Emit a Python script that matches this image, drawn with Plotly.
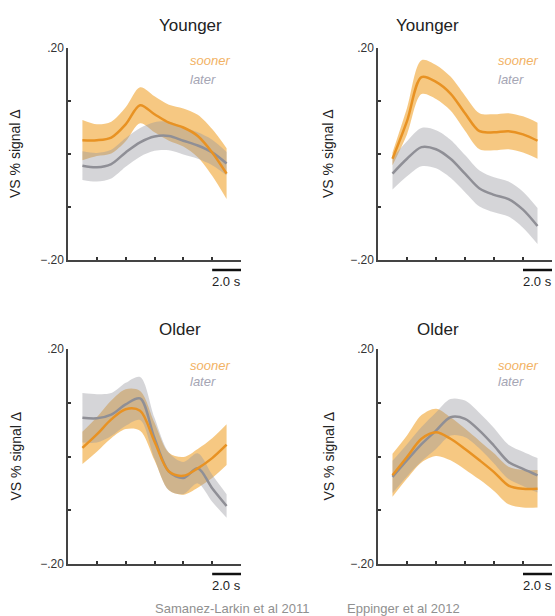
import plotly.graph_objects as go

# time points (s)
t = [1, 2, 3, 4, 5, 6, 7, 8, 9, 10, 11]

# Panel 1: Samanez-Larkin et al 2011, Younger
p1_sooner = [0.026, 0.026, 0.031, 0.056, 0.092, 0.075, 0.059, 0.050, 0.034, 0.003, -0.037]
p1_sooner_se = [0.038, 0.030, 0.030, 0.032, 0.034, 0.034, 0.034, 0.036, 0.040, 0.044, 0.048]
p1_later = [-0.022, -0.025, -0.019, 0.003, 0.022, 0.033, 0.034, 0.025, 0.016, 0.003, -0.018]
p1_later_se = [0.027, 0.027, 0.027, 0.027, 0.027, 0.027, 0.027, 0.026, 0.025, 0.024, 0.022]

# Panel 2: Eppinger et al 2012, Younger
p2_sooner = [-0.009, 0.062, 0.145, 0.136, 0.114, 0.077, 0.043, 0.041, 0.043, 0.037, 0.025]
p2_sooner_se = [0.012, 0.025, 0.032, 0.032, 0.032, 0.033, 0.034, 0.034, 0.034, 0.034, 0.034]
p2_later = [-0.037, -0.009, 0.013, 0.009, -0.009, -0.037, -0.065, -0.077, -0.085, -0.105, -0.136]
p2_later_se = [0.030, 0.033, 0.036, 0.036, 0.036, 0.035, 0.034, 0.033, 0.033, 0.034, 0.034]

# Panel 3: Samanez-Larkin et al 2011, Older
p3_sooner = [0.016, 0.041, 0.069, 0.088, 0.085, 0.028, -0.028, -0.036, -0.022, -0.003, 0.022]
p3_sooner_se = [0.030, 0.032, 0.035, 0.037, 0.037, 0.035, 0.035, 0.035, 0.036, 0.037, 0.038]
p3_later = [0.072, 0.071, 0.078, 0.097, 0.108, 0.034, -0.028, -0.040, -0.022, -0.059, -0.092]
p3_later_se = [0.046, 0.045, 0.040, 0.040, 0.040, 0.038, 0.035, 0.030, 0.028, 0.025, 0.022]

# Panel 4: Eppinger et al 2012, Older
p4_sooner = [-0.035, -0.001, 0.033, 0.045, 0.033, 0.014, -0.007, -0.029, -0.054, -0.060, -0.060]
p4_sooner_se = [0.040, 0.040, 0.044, 0.044, 0.040, 0.038, 0.036, 0.035, 0.035, 0.035, 0.035]
p4_later = [-0.038, -0.007, 0.023, 0.048, 0.073, 0.070, 0.048, 0.020, -0.010, -0.023, -0.035]
p4_later_se = [0.030, 0.030, 0.032, 0.034, 0.034, 0.034, 0.033, 0.033, 0.032, 0.032, 0.032]

titles = ["Younger", "Younger", "Older", "Older"]
captions = ["Samanez-Larkin et al 2011", "Eppinger et al 2012"]
ytick_vals = [-0.2, -0.1, 0, 0.1, 0.2]
ytick_text = ["\u2212.20", "", "", "", ".20"]
xtick_vals = [2, 4, 6, 8, 10, 12]

panels = [
    (p1_sooner, p1_sooner_se, p1_later, p1_later_se),
    (p2_sooner, p2_sooner_se, p2_later, p2_later_se),
    (p3_sooner, p3_sooner_se, p3_later, p3_later_se),
    (p4_sooner, p4_sooner_se, p4_later, p4_later_se),
]

W, H = 555, 616
FONT = "Liberation Sans, Arial, Helvetica, sans-serif"
ORANGE = "rgb(232,146,35)"
ORANGE_BAND = "rgba(240,160,40,0.58)"
GRAY = "rgb(143,143,150)"
GRAY_BAND = "rgba(150,150,158,0.40)"

xdom = [[68 / W, 241 / W], [378 / W, 552 / W]]
ydom = [[1 - 260 / H, 1 - 48 / H], [1 - 564 / H, 1 - 349 / H]]

fig = go.Figure()
annotations = []
shapes = []

for i, (s, sse, l, lse) in enumerate(panels):
    ax = "" if i == 0 else str(i + 1)
    xr, yr = "x" + ax, "y" + ax
    col, row = i % 2, i // 2
    for vals, se, band in [(s, sse, ORANGE_BAND), (l, lse, GRAY_BAND)]:
        lower = [v - e for v, e in zip(vals, se)]
        upper = [v + e for v, e in zip(vals, se)]
        fig.add_trace(go.Scatter(x=t, y=lower, mode="lines",
                                 line=dict(width=0, shape="spline", smoothing=0.9),
                                 hoverinfo="skip", showlegend=False, xaxis=xr, yaxis=yr))
        fig.add_trace(go.Scatter(x=t, y=upper, mode="lines", fill="tonexty", fillcolor=band,
                                 line=dict(width=0, shape="spline", smoothing=0.9),
                                 hoverinfo="skip", showlegend=False, xaxis=xr, yaxis=yr))
    fig.add_trace(go.Scatter(x=t, y=l, mode="lines",
                             line=dict(color=GRAY, width=2.5, shape="spline", smoothing=0.9),
                             showlegend=False, xaxis=xr, yaxis=yr))
    fig.add_trace(go.Scatter(x=t, y=s, mode="lines",
                             line=dict(color=ORANGE, width=2.5, shape="spline", smoothing=0.9),
                             showlegend=False, xaxis=xr, yaxis=yr))

    axcommon = dict(showline=True, linecolor="#444", linewidth=1.5, showgrid=False,
                    zeroline=False, ticks="inside", ticklen=3, tickwidth=1.5, tickcolor="#333",
                    automargin=False)
    fig.layout["xaxis" + ax] = dict(domain=xdom[col], range=[0, 12], anchor=yr,
                                    tickvals=xtick_vals, showticklabels=False, **axcommon)
    fig.layout["yaxis" + ax] = dict(domain=ydom[row], range=[-0.2, 0.2], anchor=xr,
                                    tickvals=ytick_vals, ticktext=ytick_text,
                                    tickfont=dict(size=12, color="#333", family=FONT),
                                    **axcommon)

    x0p, x1p = xdom[col]
    y0p, y1p = ydom[row]
    # title
    annotations.append(dict(text=titles[i], x=(157 if col == 0 else 461) / W,
                            y=1 - (25 if row == 0 else 329) / H, xref="paper", yref="paper",
                            yanchor="middle", showarrow=False,
                            font=dict(size=17, color="#222", family=FONT)))
    # y label
    annotations.append(dict(text="VS % signal \u0394", x=(15 if col == 0 else 328) / W,
                            y=(y0p + y1p) / 2, xref="paper", yref="paper", textangle=-90,
                            xanchor="center", yanchor="middle",
                            showarrow=False, font=dict(size=14, color="#222", family=FONT)))
    # in-plot legend
    lx = (188 if col == 0 else 496) / W
    sy = 1 - (61 if row == 0 else 365) / H
    ly = 1 - (79 if row == 0 else 381) / H
    annotations.append(dict(text="<i>sooner</i>", x=lx, y=sy, xref="paper", yref="paper",
                            xanchor="left", yanchor="middle", showarrow=False,
                            font=dict(size=13, color="rgb(242,178,100)", family=FONT)))
    annotations.append(dict(text="<i>later</i>", x=lx, y=ly, xref="paper", yref="paper",
                            xanchor="left", yanchor="middle", showarrow=False,
                            font=dict(size=13, color="rgb(165,165,180)", family=FONT)))
    # scale bar
    bar_y = y0p - 10 / H
    shapes.append(dict(type="line", xref=xr, yref="paper", x0=10, x1=12, y0=bar_y, y1=bar_y,
                       line=dict(color="#111", width=2.5)))
    annotations.append(dict(text="2.0 s", x=11, y=bar_y - 2 / H, xref=xr, yref="paper",
                            yanchor="top", showarrow=False,
                            font=dict(size=13, color="#222", family=FONT)))

for col, cap in enumerate(captions):
    annotations.append(dict(text=cap, x=(153 if col == 0 else 462) / W, y=1 - 608 / H,
                            xref="paper", yref="paper", yanchor="middle", showarrow=False,
                            font=dict(size=13, color="#909090", family=FONT)))

fig.update_layout(width=W, height=H, margin=dict(l=0, r=0, t=0, b=0, pad=0, autoexpand=False),
                  paper_bgcolor="white", plot_bgcolor="white",
                  annotations=annotations, shapes=shapes, showlegend=False)

fig.write_html("out.html", config={"displayModeBar": False},
               post_script="document.body.style.margin='0';document.body.style.overflow='hidden';")
